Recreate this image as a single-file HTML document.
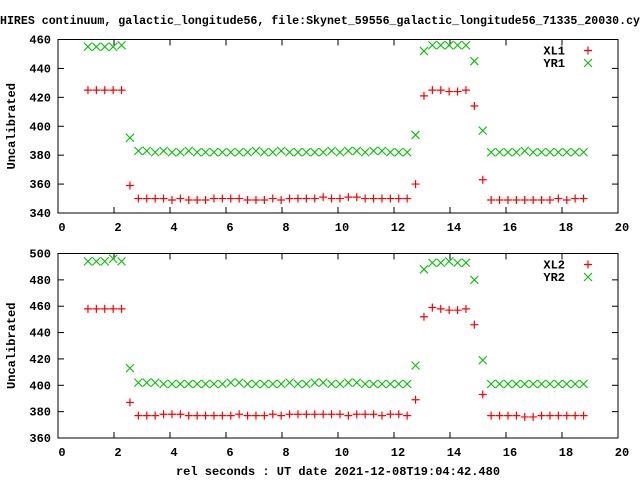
<!DOCTYPE html>
<html><head><meta charset="utf-8"><style>
body{margin:0;background:#fff}
svg{display:block}
text{font-family:"Liberation Mono",monospace;font-weight:bold;font-size:12px;fill:#000}
</style></head><body>
<svg id="chart" width="640" height="480" viewBox="0 0 640 480" xmlns="http://www.w3.org/2000/svg">
<text x="0" y="24" textLength="640" lengthAdjust="spacingAndGlyphs">HIRES continuum, galactic_longitude56, file:Skynet_59556_galactic_longitude56_71335_20030.cy</text>
<text x="338" y="475" text-anchor="middle">rel seconds : UT date 2021-12-08T19:04:42.480</text>
</svg>
<script>
const xTicks=[0,2,4,6,8,10,12,14,16,18,20];
const yTicks1=[340,360,380,400,420,440,460];
const yTicks2=[360,380,400,420,440,460,480,500];
const xl1=[425,425,425,425,425,359,350,350,350,350,349,350,349,349,349,350,350,350,350,349,349,349,350,349,350,350,350,350,351,350,350,351,351,350,350,350,350,350,350,360,421,425,425,424,424,425,414,363,349,349,349,349,349,349,349,349,350,349,350,350];
const yr1=[455,455,455,455,456,392,383,383,382,383,382,382,383,382,382,382,382,382,382,382,383,382,382,383,382,382,382,382,382,383,382,383,383,382,383,383,382,382,382,394,452,456,456,456,456,456,445,397,382,382,382,382,383,382,382,382,382,382,382,382];
const xl2=[458,458,458,458,458,387,377,377,377,378,378,378,377,377,377,377,377,377,378,377,377,377,378,377,378,378,378,378,378,378,378,377,378,378,378,377,378,378,377,389,452,459,458,457,457,458,446,393,377,377,377,377,376,376,377,377,377,377,377,377];
const yr2=[494,494,494,496,494,413,402,402,402,401,401,401,401,401,401,401,401,402,402,401,401,401,401,401,402,401,401,402,402,401,401,402,402,401,401,401,401,401,401,415,488,493,493,494,493,493,480,419,401,401,401,401,401,401,401,401,401,401,401,401];
const xStart=1.07, xStep=0.3;
const NS='http://www.w3.org/2000/svg';
const svg=document.getElementById('chart');
function mk(tag,attrs,parent){const e=document.createElementNS(NS,tag);for(const k in attrs)e.setAttribute(k,attrs[k]);(parent||svg).appendChild(e);return e;}
function panel(p){
  const g=mk('g',{});
  
  
  const L=58,R=618,T=p.top,B=p.bottom;
  const xs=v=>L+(v-0)/20*(R-L);
  const ys=v=>B-(v-p.ymin)/(p.ymax-p.ymin)*(B-T);
  const frame=mk('rect',{x:L,y:T,width:R-L,height:B-T,fill:'none',stroke:'#000','stroke-width':1},g);
  
  
  xTicks.forEach(t=>{
    const x=xs(t);
    mk('line',{x1:x,y1:B,x2:x,y2:B-6,stroke:'#000'},g);
    mk('line',{x1:x,y1:T,x2:x,y2:T+6,stroke:'#000'},g);
    const lb=mk('text',{x:x+4,y:B+18,'text-anchor':'middle'},g);
    lb.textContent=t;
    
    
  });
  p.yt.forEach(t=>{
    const y=ys(t);
    mk('line',{x1:L,y1:y,x2:L+6,y2:y,stroke:'#000'},g);
    mk('line',{x1:R,y1:y,x2:R-6,y2:y,stroke:'#000'},g);
    const lb=mk('text',{x:51,y:y+4,'text-anchor':'end'},g);
    lb.textContent=t;
    
    
  });
  const yl=mk('text',{x:0,y:0,'text-anchor':'middle',transform:`translate(15,${(T+B)/2}) rotate(-90)`},g);
  yl.textContent='Uncalibrated';
  
  
  function plus(x,y,par){mk('path',{d:`M${x-4},${y}h8M${x},${y-4}v8`,stroke:'#ff0000','stroke-width':1.2,fill:'none'},par);}
  function cross(x,y,par){mk('path',{d:`M${x-4},${y-4}l8,8M${x-4},${y+4}l8,-8`,stroke:'#00c000','stroke-width':1.1,fill:'none'},par);}
  const sa=mk('g',{},g);
  
  
  p.d1.forEach((v,i)=>plus(xs(xStart+i*xStep),ys(v),sa));
  const sb=mk('g',{},g);
  
  
  p.d2.forEach((v,i)=>cross(xs(xStart+i*xStep),ys(v),sb));
  [[p.n1,plus],[p.n2,cross]].forEach((e,k)=>{
    const y=T+11+k*12.5;
    const lg=mk('g',{},g);
    
    
    const t=mk('text',{x:565,y:y+4,'text-anchor':'end'},lg);
    t.textContent=e[0];
    e[1](588,y,lg);
  });
}
panel({name:'top-panel',top:39.5,bottom:213,ymin:340,ymax:460,yt:yTicks1,d1:xl1,d2:yr1,n1:'XL1',n2:'YR1'});
panel({name:'bottom-panel',top:253.5,bottom:438,ymin:360,ymax:500,yt:yTicks2,d1:xl2,d2:yr2,n1:'XL2',n2:'YR2'});
</script>
</body></html>
